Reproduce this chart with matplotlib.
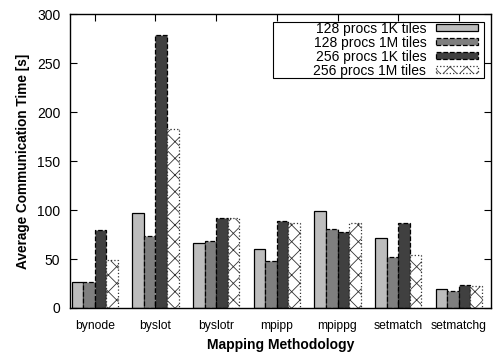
import numpy as np
import matplotlib
matplotlib.use("Agg")
from matplotlib import pyplot as plt
from matplotlib.patches import Rectangle

methods = ["bynode", "byslot", "byslotr", "mpipp", "mpippg", "setmatch", "setmatchg"]
series_names = ["128 procs 1K tiles", "128 procs 1M tiles",
                "256 procs 1K tiles", "256 procs 1M tiles"]
p128_1k = [27, 97, 66, 60, 99, 71, 19]
p128_1m = [27, 74, 68, 48, 81, 52, 17]
p256_1k = [80, 279, 92, 89, 78, 87, 23]
p256_1m = [49, 183, 92, 87, 87, 54, 22]

plt.rcParams["font.family"] = ["Liberation Sans", "DejaVu Sans"]
plt.rcParams["hatch.linewidth"] = 0.6

fig = plt.figure(figsize=(4.96, 3.54), dpi=100)
ax = fig.add_axes([0.141, 0.130, 0.849, 0.830])

x = np.arange(len(methods))
w = 0.19
styles = [
    dict(color="#bdbdbd", edgecolor="black", linestyle="-", hatch=None),
    dict(color="#7f7f7f", edgecolor="black", linestyle="--", hatch=None),
    dict(color="#404040", edgecolor="black", linestyle="--", hatch=None),
    dict(color="white", edgecolor="#333333", linestyle=":", hatch="xx"),
]
data = [p128_1k, p128_1m, p256_1k, p256_1m]
for i, (vals, st) in enumerate(zip(data, styles)):
    ax.bar(x + (i - 1.5) * w, vals, w, color=st["color"], edgecolor=st["edgecolor"],
           linestyle=st["linestyle"], linewidth=0.9, hatch=st["hatch"],
           label=series_names[i])

ax.set_xlim(-0.41, 6.53)
ax.set_ylim(0, 300)
ax.set_yticks(range(0, 301, 50))
ax.set_xticks(x)
ax.set_xticklabels(methods)
ax.tick_params(direction="in", which="both", top=True, right=True,
               length=5, width=0.8)
ax.tick_params(axis="y", labelsize=10, pad=7)
ax.tick_params(axis="x", labelsize=8.7, pad=9)
for s in ax.spines.values():
    s.set_linewidth(1.0)

ax.set_ylabel("Average Communication Time [s]", fontsize=9.8, fontweight="bold",
              labelpad=5)
ax.set_xlabel("Mapping Methodology", fontsize=10, fontweight="bold", labelpad=4)

# legend without its own frame; gnuplot-like box drawn separately
leg = ax.legend(loc="upper right", bbox_to_anchor=(0.969, 0.975), markerfirst=False,
                fontsize=10, frameon=False,
                handlelength=3.0, handleheight=0.35, labelspacing=0.0,
                borderpad=0.0, borderaxespad=0.0, handletextpad=0.72)
ax.add_patch(Rectangle((0.482, 0.782), 0.501, 0.192, transform=ax.transAxes,
                       fill=False, edgecolor="black", linewidth=0.8, zorder=5))

fig.savefig("out.png", dpi=100)
